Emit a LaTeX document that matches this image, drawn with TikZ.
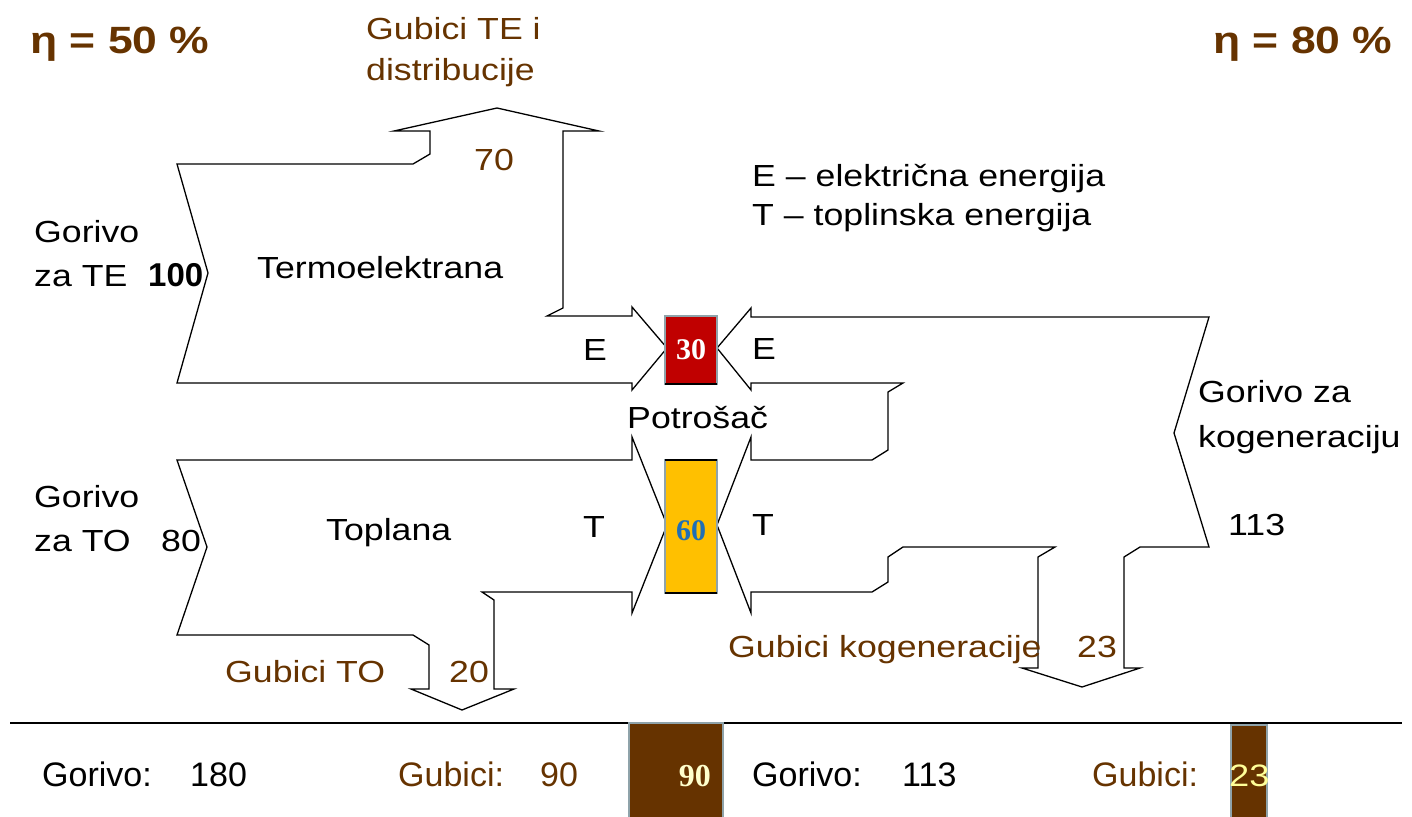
\documentclass[tikz,border=0pt]{standalone}
\usepackage{fontspec}
\setmainfont{Liberation Sans}
\newfontfamily\wide{Liberation Sans}[FakeStretch=1.17]
\newfontfamily\etafont{Liberation Sans}[FakeStretch=1.17]
\newfontfamily\numserif{Liberation Serif}
\definecolor{brn}{HTML}{663300}
\definecolor{boxred}{HTML}{C00000}
\definecolor{boxyel}{HTML}{FFC000}
\definecolor{boxbrn}{HTML}{663300}
\definecolor{rimgrey}{HTML}{8FA3AA}
\definecolor{numblue}{HTML}{1F6FB5}
\definecolor{paleyel}{HTML}{FFFFCC}
\definecolor{lightyel}{HTML}{FFFF99}
\begin{document}
\begin{tikzpicture}[x=1pt,y=-1pt,
  flow/.style={draw=black, line width=1.3pt, line join=miter, fill=white},
  txt/.style={inner sep=0pt, anchor=base west, font=\wide\fontsize{30.5}{36}\selectfont},
  btxt/.style={txt, text=brn},
  eta/.style={inner sep=0pt, anchor=base west, text=brn, font=\etafont\bfseries\fontsize{38}{44}\selectfont},
  low/.style={inner sep=0pt, anchor=base west, font=\fontsize{34}{40}\selectfont},
  consbox/.style={draw=rimgrey, line width=2.5pt},
  boxnum/.style={inner sep=0pt, font=\numserif\bfseries\fontsize{30}{34}\selectfont}
]
\useasboundingbox (0,0) rectangle (1412,816);

% flows
\draw[flow] (177,164) -- (413,164) -- (430,154) -- (430,131) -- (394,131) -- (497,108)
  -- (599,131) -- (563,131) -- (563,308) -- (547,316) -- (632,316) -- (632,307)
  -- (667,348) -- (632,390) -- (632,383) -- (177,383) -- (208,273) -- cycle;
\draw[flow] (177,460) -- (632,460) -- (632,437) -- (667,525) -- (632,613) -- (632,592)
  -- (482,592) -- (494,600) -- (494,689) -- (514,689) -- (462,710) -- (411,689)
  -- (429,689) -- (429,645) -- (413,635) -- (177,635) -- (207,547) -- cycle;
\draw[flow] (717,348) -- (751,308) -- (751,317) -- (1209,317) -- (1174,433) -- (1209,547)
  -- (1140,547) -- (1124,557) -- (1124,668) -- (1140,668) -- (1082,687) -- (1022,668)
  -- (1038,668) -- (1038,557) -- (1055,547) -- (903,547) -- (888,557) -- (888,582)
  -- (872,592) -- (751,592) -- (751,613) -- (717,525) -- (751,437) -- (751,460)
  -- (872,460) -- (888,450) -- (888,392) -- (903,383) -- (751,383) -- (751,390) -- cycle;

% consumer boxes
\draw[consbox, fill=boxred] (665,316) rectangle (717,384);
\draw[consbox, fill=boxyel] (665,460) rectangle (717,593);
\draw[line width=1.5pt] (665,384) -- (717,384);
\draw[line width=1.5pt] (665,460) -- (717,460) (665,593) -- (717,593);
\node[boxnum, text=white] (n30) at (691,350) {30};
\node[boxnum, text=numblue] (n60) at (691,531) {60};

% texts
\node[eta] (eta50) at (30,53) {η = 50 \%};
\node[eta] (eta80) at (1213,53) {η = 80 \%};
\node[btxt] (gte1) at (366,40) {Gubici TE i};
\node[btxt] (gte2) at (366,81) {distribucije};
\node[btxt] (n70) at (474,170) {70};
\node[txt] (gor1) at (34,242) {Gorivo};
\node[txt] (zate) at (34,286) {za TE};
\node[inner sep=0pt, anchor=base west, font=\bfseries\fontsize{33}{38}\selectfont] (n100) at (148,286) {100};
\node[txt] (te) at (257,278) {Termoelektrana};
\node[txt] (e1) at (583,360) {E};
\node[txt] (e2) at (752,359) {E};
\node[txt] (potr) at (627,428) {Potrošač};
\node[txt] (leg1) at (752,186) {E – električna energija};
\node[txt] (leg2) at (752,225) {T – toplinska energija};
\node[txt] (gk1) at (1198,402) {Gorivo za};
\node[txt] (gk2) at (1198,447) {kogeneraciju};
\node[txt] (n113) at (1228,535) {113};
\node[txt] (gor2) at (34,507) {Gorivo};
\node[txt] (zato) at (34,551) {za TO};
\node[txt] (n80) at (161,551) {80};
\node[txt] (topl) at (326,540) {Toplana};
\node[txt] (t1) at (583,537) {T};
\node[txt] (t2) at (752,535) {T};
\node[btxt] (gkog) at (728,657) {Gubici kogeneracije};
\node[btxt] (n23) at (1077,657) {23};
\node[btxt] (gto) at (225,682) {Gubici TO};
\node[btxt] (n20) at (449,682) {20};

% bottom summary
\draw[line width=2.5pt] (10,723) -- (1402,723);
\draw[consbox, fill=boxbrn] (629,723) rectangle (723,818);
\draw[consbox, fill=boxbrn] (1231,725) rectangle (1267,818);
\node[low] (sg1) at (42,786) {Gorivo:};
\node[low] (sg1v) at (190,786) {180};
\node[low, text=brn] (sl1) at (398,786) {Gubici:};
\node[low, text=brn] (sl1v) at (540,786) {90};
\node[inner sep=0pt, anchor=base east, text=paleyel, font=\numserif\bfseries\fontsize{32}{38}\selectfont] (b90) at (711,786) {90};
\node[low] (sg2) at (752,786) {Gorivo:};
\node[low] (sg2v) at (902,786) {113};
\node[low, text=brn] (sl2) at (1092,786) {Gubici:};
\node[inner sep=0pt, anchor=base west, text=lightyel, font=\wide\fontsize{31}{36}\selectfont] (b23) at (1229,786) {23};
\end{tikzpicture}
\end{document}
